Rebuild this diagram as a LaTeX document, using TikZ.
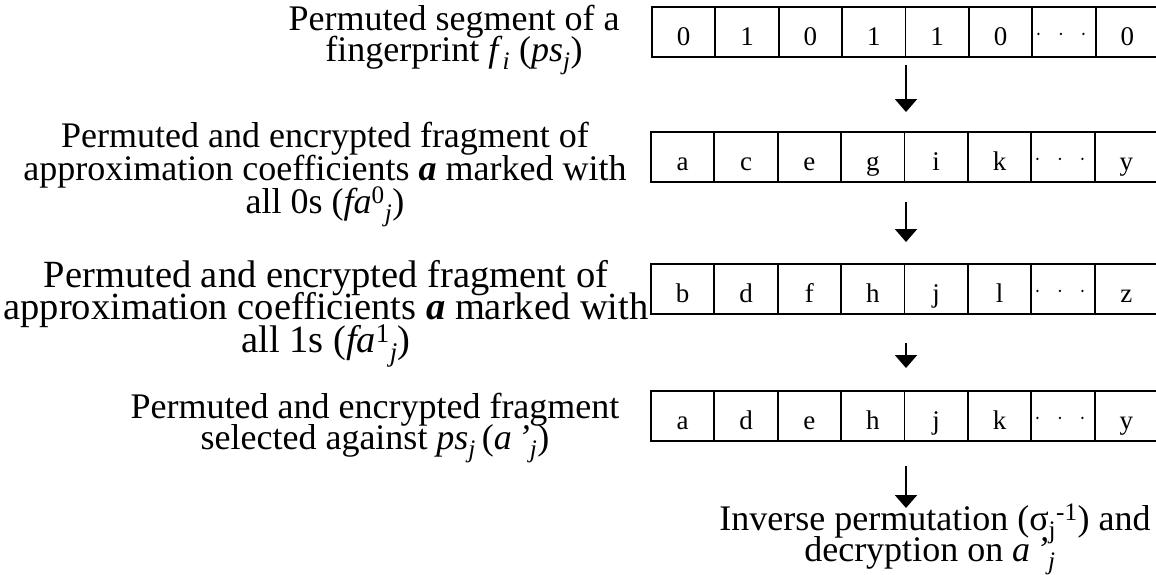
\documentclass[tikz,border=0pt]{standalone}
\usepackage{fontspec}
\setmainfont{Liberation Serif}
\usetikzlibrary{arrows.meta}
\begin{document}
\begin{tikzpicture}[x=1pt,y=-1pt]
\tikzset{
  cell/.style={draw, line width=1.8pt, minimum width=63.4pt, minimum height=50pt,
    inner sep=0pt, anchor=north west, text height=28pt, text depth=0pt,
    font=\fontsize{27}{27}\selectfont},
  txtline/.style={anchor=base, inner sep=0pt, font=\fontsize{36}{36}\selectfont},
  bigline/.style={txtline, font=\fontsize{38.5}{38.5}\selectfont},
  flow/.style={line width=2.2pt, -{Triangle[width=22pt,length=13pt]}},
  celldot/.style={circle, fill, inner sep=0pt, minimum size=2.6pt}
}
\useasboundingbox (0,0) rectangle (1156,574);

% rows of cells: row / left / top / contents
\foreach \r/\lft/\tp/\vals in {1/651/6/{0,1,0,1,1,0,{},0},
                              2/650/131/{a,c,e,g,i,k,{},y},
                              3/650/263/{b,d,f,h,j,l,{},z},
                              4/650/390/{a,d,e,h,j,k,{},y}}{
  \foreach [count=\c] \v in \vals {
    \node[cell] (r\r c\c) at ({\lft+(\c-1)*63.4},\tp) {\v};
  }
  \foreach \dx in {7,29.5,52}
    \node[celldot] (d\r x\dx) at ([xshift=\dx pt,yshift=-2pt]r\r c7.west) {};
}

% row descriptions, one node per line at its baseline
\node[txtline] (l1a) at (454,30) {Permuted segment of a};
\node[txtline] (l1b) at (454,61) {fingerprint \textit{f}\textsubscript{\textit{i}} (\textit{ps}\textsubscript{\textit{j}})};

\node[txtline] (l2a) at (325,147) {Permuted and encrypted fragment of};
\node[txtline] (l2b) at (325,180) {approximation coefficients \textbf{\textit{a}} marked with};
\node[txtline] (l2c) at (325,213) {all 0s (\textit{fa}\textsuperscript{0}\textsubscript{\textit{j}})};

\node[bigline] (l3a) at (326,287) {Permuted and encrypted fragment of};
\node[bigline] (l3b) at (326,319) {approximation coefficients \textbf{\textit{a}} marked with};
\node[bigline] (l3c) at (326,352) {all 1s (\textit{fa}\textsuperscript{1}\textsubscript{\textit{j}})};

\node[txtline] (l4a) at (375,418) {Permuted and encrypted fragment};
\node[txtline] (l4b) at (375,449) {selected against \textit{ps}\textsubscript{\textit{j}}\,(\textit{a\,’}\textsubscript{\textit{j}})};

\node[txtline] (l5a) at (935,530) {Inverse permutation (σ\textsubscript{j}\textsuperscript{-1}) and};
\node[txtline] (l5b) at (930,561) {decryption on \textit{a\,’}\textsubscript{\textit{j}}};

% flow arrows
\coordinate (a1s) at (906,65);  \coordinate (a1e) at (906,112);
\coordinate (a2s) at (906,202); \coordinate (a2e) at (906,242);
\coordinate (a3s) at (906,343); \coordinate (a3e) at (906,368);
\coordinate (a4s) at (906,466); \coordinate (a4e) at (906,508);
\draw[flow] (a1s) -- (a1e);
\draw[flow] (a2s) -- (a2e);
\draw[flow] (a3s) -- (a3e);
\draw[flow] (a4s) -- (a4e);
\end{tikzpicture}
\end{document}
